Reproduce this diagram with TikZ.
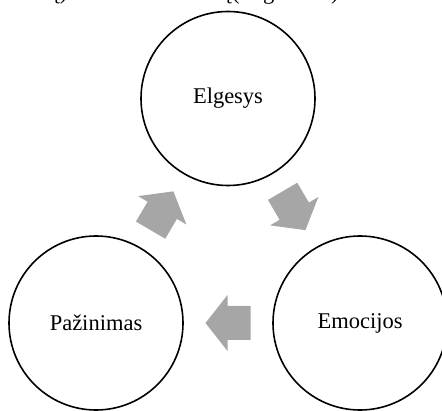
\documentclass[tikz,border=0pt]{standalone}
\usepackage{fontspec}
\setmainfont{Liberation Serif}
\definecolor{arrowgray}{HTML}{A6A6A6}
\tikzset{
	stage/.style={draw, circle, line width=1.6pt, minimum size=174pt, inner sep=0pt, font=\fontsize{22.5}{27}\selectfont},
	cut/.style={inner sep=0pt, font=\fontsize{22.5}{27}\selectfont},
	cyclearrow/.pic={\fill[arrowgray] (-22.5,-17) -- (0.5,-17) -- (0.5,-28) -- (22.5,0) -- (0.5,28) -- (0.5,17) -- (-22.5,17) -- cycle;}
}
\begin{document}
\begin{tikzpicture}[x=1pt,y=1pt]
	\useasboundingbox (0,0) rectangle (442,410);
	% text line above, cut off by the page edge
	\node[cut, anchor=base east] (t1) at (67.5,410) {ų)};
	\node[cut, anchor=base east] (t2) at (232,410) {ų\ };
	\node[cut, anchor=base west] (t3) at (232,410) {(};
	\node[cut, anchor=base west] (t4) at (263,410) {g};
	\node[cut, anchor=base west] (t5) at (331,410) {)};
	\node[stage] (el) at (228,311.5) {Elgesys};
	\node[stage] (pz) at (96,87) {Pažinimas};
	\node[stage] (em) at (360,87) {Emocijos};
	\path (pz) -- (el) pic[midway, sloped, allow upside down] {cyclearrow};
	\path (el) -- (em) pic[midway, sloped, allow upside down] {cyclearrow};
	\path (em) -- (pz) pic[midway, sloped, allow upside down] {cyclearrow};
\end{tikzpicture}
\end{document}
